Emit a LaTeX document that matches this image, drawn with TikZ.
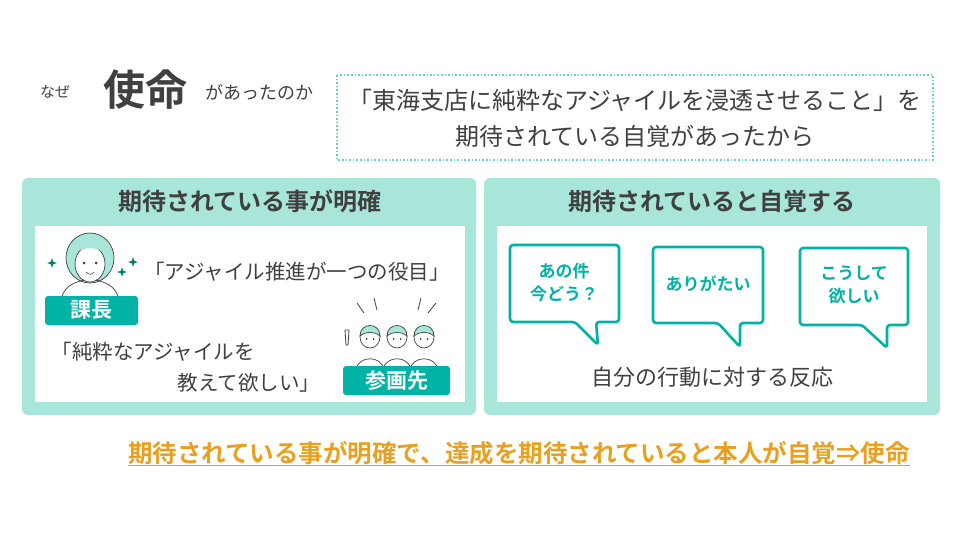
\documentclass[tikz,border=0pt]{standalone}
\usepackage{fontspec}
\usetikzlibrary{calc}
\setmainfont{Noto Sans CJK JP}
\newfontfamily\jpb{Noto Sans CJK JP Bold}
\definecolor{mint}{HTML}{A8E6D9}
\definecolor{teal}{HTML}{00B3A4}
\definecolor{txt}{HTML}{404040}
\definecolor{org}{HTML}{E8A020}
\tikzset{x=1pt,y=-1pt,
 panel/.style={fill=mint,rounded corners=6pt},
 inner/.style={fill=white},
 tag/.style={fill=teal,rounded corners=3pt},
 bub/.style={draw=teal,line width=2.6pt,fill=white,rounded corners=3pt,line join=round},
 bt/.style={text=teal,font=\jpb\fontsize{17}{23}\selectfont,align=center},
 head/.style={draw=txt,line width=0.7pt},
}
\begin{document}
\begin{tikzpicture}
\useasboundingbox (0,0) rectangle (960,540);
\node[text=txt,font=\fontsize{15}{18}\selectfont] (naze) at (55,92) {なぜ};
\node[text=txt,font=\jpb\fontsize{42}{48}\selectfont] (shimei) at (145,90) {使命};
\node[text=txt,font=\fontsize{18}{22}\selectfont] (atta) at (259,92) {があったのか};
\draw[teal!60,dotted,line width=1.6pt] (337,75) rectangle (933,160);
\node[text=txt,font=\fontsize{24}{36}\selectfont,align=center] (q) at (635,118) {「東海支店に純粋なアジャイルを浸透させること」を\\期待されている自覚があったから};
% left panel
\fill[panel] (22,178) rectangle (476,415);
\fill[inner] (35,226) rectangle (465,402);
\node[text=txt,font=\jpb\fontsize{24}{28}\selectfont] (lt) at (250,201) {期待されている事が明確};
% right panel
\fill[panel] (484,178) rectangle (940,415);
\fill[inner] (497,226) rectangle (927,402);
\node[text=txt,font=\jpb\fontsize{24}{28}\selectfont] (rt) at (712,201) {期待されていると自覚する};
% bubbles
\draw[bub] (510,245) -- (619,245) -- (619,322) -- (596,322) -- (598,345) -- (575,322) -- (510,322) -- cycle;
\draw[bub] (653,247) -- (763,247) -- (763,323) -- (740,323) -- (740,347) -- (718,323) -- (653,323) -- cycle;
\draw[bub] (800,248) -- (908,248) -- (908,325) -- (887,325) -- (887,348) -- (862,325) -- (800,325) -- cycle;
\node[bt] (b1) at (564,283) {あの件\\今どう？};
\node[bt] (b2) at (708,284) {ありがたい};
\node[bt] (b3) at (854,285) {こうして\\欲しい};
\node[text=txt,font=\fontsize{22}{26}\selectfont] (react) at (712,377) {自分の行動に対する反応};
% boss figure
\fill[mint] (90,258) ellipse (24 and 25);
\draw[head] (90,258) ellipse (24 and 25);
\fill[white,draw=txt,line width=0.7pt] (90,264) ellipse (15 and 18);
\fill[mint] (70,245) .. controls (80,235) and (100,235) .. (110,245) -- (105,252) .. controls (95,247) and (85,247) .. (75,252) -- cycle;
\fill[txt] (84,263) circle (1.5) (96,263) circle (1.5);
\draw[txt,line width=0.6pt] (86,272) .. controls (89,275) and (92,275) .. (94,272);
\draw[head] (62,296) .. controls (66,285) and (76,282) .. (84,280) (96,280) .. controls (104,282) and (114,285) .. (118,296);
\foreach \p in {(52,263),(122,272),(133,262)}
  \fill[teal!70!black] \p +(0,-5) -- +(1.2,-1.2) -- +(5,0) -- +(1.2,1.2) -- +(0,5) -- +(-1.2,1.2) -- +(-5,0) -- +(-1.2,-1.2) -- cycle;
\fill[tag] (45,296) rectangle (138,325);
\node[text=white,font=\jpb\fontsize{21}{24}\selectfont] (boss) at (91,310) {課長};
\node[text=txt,font=\fontsize{20.5}{24}\selectfont] (q1) at (297,272) {「アジャイル推進が一つの役目」};
\node[text=txt,font=\fontsize{20.5}{24}\selectfont,anchor=west] (q2a) at (48,352) {「純粋なアジャイルを};
\node[text=txt,font=\fontsize{20.5}{24}\selectfont,anchor=east] (q2b) at (324,383) {教えて欲しい」};
% team figures
\foreach \x in {370,397,424}{
  \draw[head,fill=white] (\x-14,370) .. controls (\x-12,355) and (\x+12,355) .. (\x+14,370);
  \fill[white,draw=txt,line width=0.7pt] (\x,337) ellipse (10 and 11);
  \fill[mint,draw=txt,line width=0.7pt] (\x-10,336) .. controls (\x-10,322) and (\x+10,322) .. (\x+10,336) .. controls (\x+4,331) and (\x-4,331) .. cycle;
  \fill[txt] (\x-3.5,339) circle (1) (\x+3.5,339) circle (1);
}
\draw[txt,line width=0.8pt] (345,330) -- (349,330) -- (348,345) -- (346,345) -- cycle;
\draw[txt,line width=0.8pt] (357,303)--(364,313) (374,298)--(377,310) (421,298)--(418,310) (436,303)--(428,313);
\fill[tag] (343,366) rectangle (450,395);
\node[text=white,font=\jpb\fontsize{21}{24}\selectfont] (team) at (397,381) {参画先};
% conclusion
\node[text=org,font=\jpb\fontsize{24.5}{28}\selectfont] (concl) at (519,453) {期待されている事が明確で、達成を期待されていると本人が自覚⇒使命};
\draw[org,line width=1.3pt] ($(concl.south west)+(3,-3)$) -- ($(concl.south east)+(-3,-3)$);
\end{tikzpicture}
\end{document}
